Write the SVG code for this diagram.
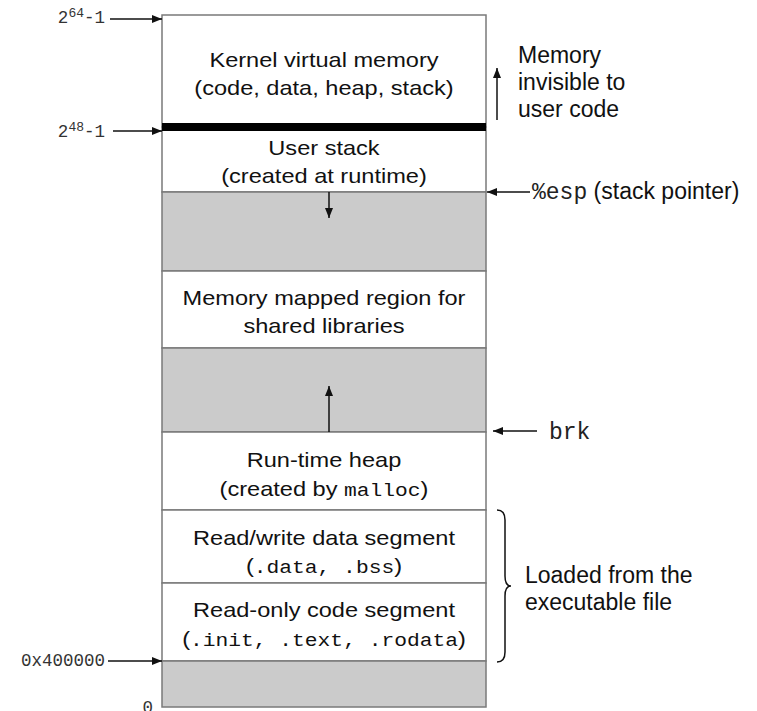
<svg xmlns="http://www.w3.org/2000/svg" width="757" height="711" viewBox="0 0 757 711">
<defs>
<style>
.seg{fill:#fff;stroke:#7a7a7a;stroke-width:1.5}
.gap{fill:#cbcbcb;stroke:#7a7a7a;stroke-width:1.5}
.bt{font-family:"Liberation Sans",Arial,sans-serif;font-size:20.5px;fill:#111;text-anchor:middle}
.bm{font-family:"Liberation Mono","Courier New",monospace;font-size:18.5px}
.rt{font-family:"Liberation Sans",Arial,sans-serif;font-size:23px;fill:#111}
.rm{font-family:"Liberation Mono","Courier New",monospace;font-size:23px;fill:#222}
.lt{font-family:"Liberation Mono","Courier New",monospace;font-size:17.5px;fill:#333;text-anchor:end}
.ln{stroke:#111;stroke-width:1.5;fill:none}
</style>
<marker id="ah" markerWidth="10" markerHeight="8" refX="10" refY="4" orient="auto" markerUnits="userSpaceOnUse">
<path d="M0,0 L10,4 L0,8 Z" fill="#111"/>
</marker>
</defs>

<g id="kernel">
<rect class="seg" x="162" y="15" width="324" height="112"/>
<text class="bt" transform="matrix(1.15,0,0,1,-48.6,0)" x="324" y="67">Kernel virtual memory</text>
<text class="bt" transform="matrix(1.15,0,0,1,-48.6,0)" x="324" y="95">(code, data, heap, stack)</text>
</g>
<g id="user-stack">
<rect class="seg" x="162" y="127" width="324" height="65"/>
<text class="bt" transform="matrix(1.15,0,0,1,-48.6,0)" x="324" y="155">User stack</text>
<text class="bt" transform="matrix(1.15,0,0,1,-48.6,0)" x="324" y="183">(created at runtime)</text>
</g>
<g id="boundary">
<rect x="162" y="123" width="324" height="8" fill="#000"/>
</g>
<g id="gap-stack">
<rect class="gap" x="162" y="192" width="324" height="79"/>
</g>
<g id="mmap">
<rect class="seg" x="162" y="271" width="324" height="77"/>
<text class="bt" transform="matrix(1.15,0,0,1,-48.6,0)" x="324" y="305">Memory mapped region for</text>
<text class="bt" transform="matrix(1.15,0,0,1,-48.6,0)" x="324" y="333">shared libraries</text>
</g>
<g id="gap-heap">
<rect class="gap" x="162" y="348" width="324" height="84"/>
</g>
<g id="heap">
<rect class="seg" x="162" y="432" width="324" height="78"/>
<text class="bt" transform="matrix(1.15,0,0,1,-48.6,0)" x="324" y="467">Run-time heap</text>
<text class="bt" transform="matrix(1.15,0,0,1,-48.6,0)" x="324" y="496">(created by <tspan class="bm">malloc</tspan>)</text>
</g>
<g id="rw-data">
<rect class="seg" x="162" y="510" width="324" height="73"/>
<text class="bt" transform="matrix(1.15,0,0,1,-48.6,0)" x="324" y="545">Read/write data segment</text>
<text class="bt" transform="matrix(1.15,0,0,1,-48.6,0)" x="324" y="573">(<tspan class="bm">.data, .bss</tspan>)</text>
</g>
<g id="ro-code">
<rect class="seg" x="162" y="583" width="324" height="78"/>
<text class="bt" transform="matrix(1.15,0,0,1,-48.6,0)" x="324" y="617">Read-only code segment</text>
<text class="bt" transform="matrix(1.15,0,0,1,-48.6,0)" x="324" y="646">(<tspan class="bm">.init, .text, .rodata</tspan>)</text>
</g>
<g id="gap-low">
<rect class="gap" x="162" y="661" width="324" height="46"/>
</g>

<g id="labels">
<text class="lt" x="105" y="23">2<tspan font-size="13" dy="-6">64</tspan><tspan dy="6">-1</tspan></text>
<text class="lt" x="105" y="137">2<tspan font-size="13" dy="-6">48</tspan><tspan dy="6">-1</tspan></text>
<text class="lt" x="105" y="666">0x400000</text>
<text class="lt" x="153" y="713">0</text>
<text class="rt" x="518" y="63">Memory</text>
<text class="rt" x="518" y="90">invisible to</text>
<text class="rt" x="518" y="117">user code</text>
<text class="rt" x="532" y="199"><tspan class="rm">%esp</tspan> (stack pointer)</text>
<text class="rm" x="549" y="439">brk</text>
<text class="rt" x="525" y="583">Loaded from the</text>
<text class="rt" x="525" y="610">executable file</text>
</g>

<g id="connectors">
<line class="ln" x1="110" y1="19" x2="162" y2="19" marker-end="url(#ah)"/>
<line class="ln" x1="113" y1="131" x2="162" y2="131" marker-end="url(#ah)"/>
<line class="ln" x1="108" y1="661" x2="162" y2="661" marker-end="url(#ah)"/>
<line class="ln" x1="530" y1="192" x2="487" y2="192" marker-end="url(#ah)"/>
<line class="ln" x1="537" y1="431" x2="493" y2="431" marker-end="url(#ah)"/>
<line class="ln" x1="329" y1="192" x2="329" y2="218" marker-end="url(#ah)"/>
<line class="ln" x1="329" y1="432" x2="329" y2="386" marker-end="url(#ah)"/>
<line class="ln" x1="497" y1="120" x2="497" y2="68" marker-end="url(#ah)"/>
<path class="ln" d="M497,510 Q505,510 505,520 L505,576 Q505,586 511,586 Q505,586 505,596 L505,652 Q505,662 497,662"/>
</g>
</svg>
